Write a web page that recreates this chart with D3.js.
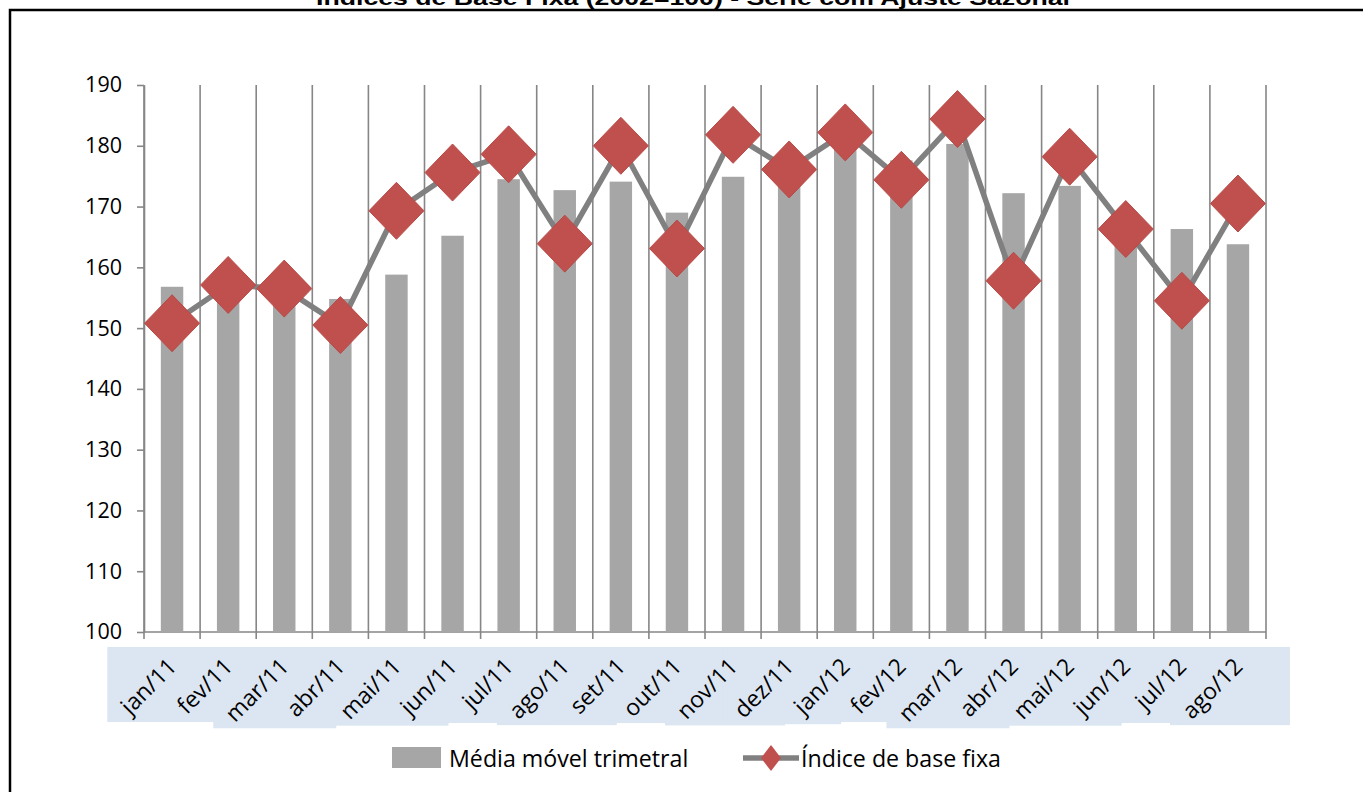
<!DOCTYPE html>
<html><head><meta charset="utf-8">
<script src="https://cdn.jsdelivr.net/npm/d3@7"></script>
<style>body{margin:0;background:#fff}svg{display:block}</style>
</head><body><svg id="c" width="1363" height="792"></svg>
<script>
const categories = ["jan/11","fev/11","mar/11","abr/11","mai/11","jun/11","jul/11","ago/11","set/11","out/11","nov/11","dez/11","jan/12","fev/12","mar/12","abr/12","mai/12","jun/12","jul/12","ago/12"];
const mediaMovel = [156.8,155.5,154.8,154.8,158.8,165.2,174.5,172.7,174.1,169.0,174.9,173.7,180.0,177.6,180.3,172.2,173.4,167.4,166.3,163.8];
const indiceBase = [150.8,157.1,156.5,150.5,169.3,175.6,178.6,163.9,180.0,163.1,181.8,176.1,182.2,174.4,184.4,157.8,178.2,166.3,154.5,170.5];
const yTicks = [100,110,120,130,140,150,160,170,180,190];
const titleText = "Índices de Base Fixa (2002=100) - Série com Ajuste Sazonal";
const legendLabels = ["Média móvel trimetral","Índice de base fixa"];

const FONT = "'Open Sans', 'Noto Sans', sans-serif";
const GRID = "#868686";
const BAR = "#a6a6a6";
const LINE = "#808080";
const RED = "#c0504d";

const svg = d3.select("#c");
svg.append("rect").attr("width",1363).attr("height",792).attr("fill","#fff");

const x = d3.scaleBand().domain(categories).range([144,1266]).padding(0);
const y = d3.scaleLinear().domain([100,190]).range([632,85]);
const xb = d3.scaleLinear().domain([0,categories.length]).range(x.range());
const cx = c => x(c) + x.bandwidth()/2;

// frame
svg.append("rect").attr("x",10).attr("y",10).attr("width",1370).attr("height",800)
  .attr("fill","none").attr("stroke","#000").attr("stroke-width",2.5);

// title (top cut off, as in reference)
const title = svg.append("text").attr("x",693).attr("y",5).attr("text-anchor","middle")
  .attr("font-family","'Liberation Sans', Arial, sans-serif").attr("font-weight","bold")
  .attr("font-size",21).attr("fill","#000").text(titleText);
title.attr("textLength",754).attr("lengthAdjust","spacingAndGlyphs");

// vertical gridlines at category boundaries
const bounds = d3.range(categories.length+1);
svg.append("g").selectAll("line").data(bounds).join("line")
  .attr("x1",d=>xb(d)).attr("x2",d=>xb(d)).attr("y1",y(190)).attr("y2",y(100))
  .attr("stroke",GRID).attr("stroke-width",1.6);

// x tick marks
svg.append("g").selectAll("line").data(bounds).join("line")
  .attr("x1",d=>xb(d)).attr("x2",d=>xb(d)).attr("y1",y(100)).attr("y2",y(100)+7)
  .attr("stroke",GRID).attr("stroke-width",1.6);

// y axis
const yAxis = svg.append("g").attr("transform",`translate(${x.range()[0]},0)`)
  .call(d3.axisLeft(y).tickValues(yTicks).tickSize(7).tickSizeOuter(0).tickPadding(15));
yAxis.select(".domain").attr("stroke",GRID).attr("stroke-width",1.6);
yAxis.selectAll(".tick line").attr("stroke",GRID).attr("stroke-width",1.6);
yAxis.selectAll(".tick text").attr("font-family",FONT).attr("font-size",21.5).attr("fill","#000");

// x axis baseline
svg.append("line").attr("x1",x.range()[0]).attr("x2",x.range()[1]).attr("y1",y(100)).attr("y2",y(100))
  .attr("stroke",GRID).attr("stroke-width",1.6);

// bars
const barW = x.bandwidth()*0.4;
svg.append("g").selectAll("rect").data(categories).join("rect")
  .attr("x",(c)=>cx(c)-barW/2).attr("width",barW)
  .attr("y",(c,i)=>y(mediaMovel[i])).attr("height",(c,i)=>y(100)-y(mediaMovel[i]))
  .attr("fill",BAR);

// line
const pts = categories.map((c,i)=>[cx(c), y(indiceBase[i])]);
svg.append("path").attr("d",d3.line()(pts)).attr("fill","none")
  .attr("stroke",LINE).attr("stroke-width",5.5).attr("stroke-linejoin","round");

// diamonds
const dW = 27.5, dH = 28.5;
svg.append("g").selectAll("path").data(pts).join("path")
  .attr("d",p=>`M${p[0]},${p[1]-dH}L${p[0]+dW},${p[1]}L${p[0]},${p[1]+dH}L${p[0]-dW},${p[1]}Z`)
  .attr("fill",RED).attr("stroke","#b84a47").attr("stroke-width",1);

// x labels with light-blue boxes
const boxG = svg.append("g");
const labG = svg.append("g");
const c45 = Math.SQRT1_2;
const labelY = 668;
categories.forEach((c,i)=>{
  const ax = cx(c)+6, ay = labelY;
  const t = labG.append("text").attr("transform",`translate(${ax},${ay}) rotate(-45)`)
    .attr("text-anchor","end").attr("font-family",FONT).attr("font-size",23).attr("fill","#000").text(c);
  const b = t.node().getBBox();
  const corners = [[b.x,b.y],[b.x+b.width,b.y],[b.x,b.y+b.height],[b.x+b.width,b.y+b.height]]
    .map(([px,py])=>[ax + px*c45 + py*c45, ay - px*c45 + py*c45]);
  const minX = d3.min(corners,d=>d[0]);
  const maxY = d3.max(corners,d=>d[1]);
  boxG.append("rect").attr("x",minX-4).attr("y",647)
    .attr("width",(ax+46)-(minX-4)).attr("height",(maxY)-647)
    .attr("fill","#dce6f2");
});

// legend
const lg = svg.append("g");
lg.append("rect").attr("x",392).attr("y",747).attr("width",49).attr("height",21).attr("fill",BAR);
lg.append("text").attr("x",449).attr("y",758).attr("dominant-baseline","central")
  .attr("font-family",FONT).attr("font-size",23.2).attr("fill","#000").text(legendLabels[0]);
lg.append("line").attr("x1",743).attr("x2",799).attr("y1",758).attr("y2",758)
  .attr("stroke",LINE).attr("stroke-width",5.5);
lg.append("path").attr("d",`M771,${758-13}L${771+10},758L771,${758+13}L${771-10},758Z`).attr("fill",RED);
lg.append("text").attr("x",801).attr("y",758).attr("dominant-baseline","central")
  .attr("font-family",FONT).attr("font-size",23.2).attr("fill","#000").text(legendLabels[1]);
</script>
</body></html>
